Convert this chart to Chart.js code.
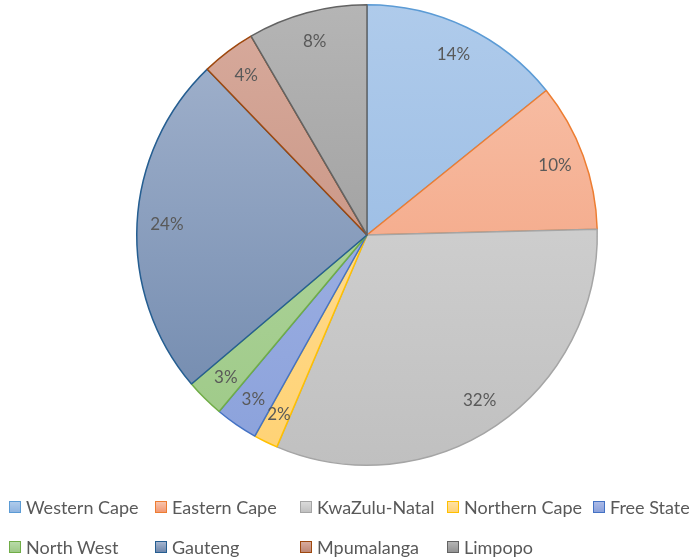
<!DOCTYPE html>
<html>
<head>
<meta charset="utf-8">
<script src="https://cdn.jsdelivr.net/npm/chart.js@4"></script>
<style>
    html, body { margin: 0; padding: 0; background: #ffffff; }
    #wrap { position: relative; width: 692px; height: 558px; }
    #chart { position: absolute; left: 0; top: 0; }
    .legend-item {
        position: absolute;
        display: flex;
        align-items: center;
        font-family: "Lato", "Open Sans", sans-serif;
        font-size: 18px;
        color: #595959;
        white-space: nowrap;
        height: 20px;
    }
    .legend-box {
        width: 10px;
        height: 10px;
        border: 1px solid;
        margin-right: 5px;
    }
</style>
</head>
<body>
<div id="wrap">
    <canvas id="chart" width="692" height="558"></canvas>
</div>
<script>
// Chart data
const provinces = ["Western Cape", "Eastern Cape", "KwaZulu-Natal", "Northern Cape", "Free State",
    "North West", "Gauteng", "Mpumalanga", "Limpopo"];
const shares = [14.2, 10.4, 31.8, 1.7, 3.0, 2.7, 24.0, 3.8, 8.4];

// Colours: gradient top, gradient bottom, outline
const fillTop = ["#afcbeb", "#f8c4ad", "#dadada", "#ffe1a3", "#abbae7", "#b8daa8", "#a5b5cf", "#d8ab9d", "#b5b5b5"];
const fillBottom = ["#8fb4e0", "#f29872", "#c0c0c0", "#ffd274", "#8aa1db", "#9dc986", "#6d86ab", "#bf8774", "#929292"];
const outline = ["#5b9bd5", "#ed7d31", "#a5a5a5", "#ffc000", "#4472c4", "#70ad47", "#255e91", "#9e480e", "#636363"];

// Legend grid positions
const legendCols = [9, 155, 300, 447, 593];
const legendRows = [497, 537];

const wrap = document.getElementById("wrap");
const chartCanvas = document.getElementById("chart");

// Vertical gradient across the pie, lighter at the top
function sliceGradient(context) {
    const chart = context.chart;
    const area = chart.chartArea;
    if (!area) return fillBottom[context.dataIndex];
    const i = context.dataIndex;
    const g = chart.ctx.createLinearGradient(0, area.top, 0, area.bottom);
    g.addColorStop(0, fillTop[i]);
    g.addColorStop(1, fillBottom[i]);
    return g;
}

// Percentage labels inside each slice
const percentLabels = {
    id: "percentLabels",
    afterDatasetsDraw(chart) {
        const ctx = chart.ctx;
        const meta = chart.getDatasetMeta(0);
        const total = shares.reduce((a, b) => a + b, 0);
        ctx.save();
        ctx.font = "17px Lato, 'Open Sans', sans-serif";
        ctx.fillStyle = "#595959";
        ctx.textAlign = "center";
        ctx.textBaseline = "middle";
        meta.data.forEach((arc, i) => {
            const p = arc.getProps(["x", "y", "startAngle", "endAngle", "outerRadius"], true);
            const mid = (p.startAngle + p.endAngle) / 2;
            const r = p.outerRadius * 0.87;
            const text = Math.round((shares[i] / total) * 100) + "%";
            ctx.fillText(text, p.x + Math.cos(mid) * r, p.y + Math.sin(mid) * r);
        });
        ctx.restore();
    },
};

// Build the legend in two rows
function buildLegend() {
    provinces.forEach((name, i) => {
        const row = i < 5 ? 0 : 1;
        const col = i < 5 ? i : i - 5;
        const item = document.createElement("div");
        item.className = "legend-item";
        item.style.left = legendCols[col] + "px";
        item.style.top = legendRows[row] + "px";

        const box = document.createElement("span");
        box.className = "legend-box";
        box.style.background = `linear-gradient(${fillTop[i]}, ${fillBottom[i]})`;
        box.style.borderColor = outline[i];
        item.appendChild(box);

        const label = document.createElement("span");
        label.textContent = name;
        item.appendChild(label);
        wrap.appendChild(item);
    });
}

new Chart(chartCanvas.getContext("2d"), {
    type: "pie",
    data: {
        labels: provinces,
        datasets: [
            {
                data: shares,
                backgroundColor: sliceGradient,
                borderColor: outline,
                borderWidth: 1.5,
            },
        ],
    },
    options: {
        responsive: false,
        animation: false,
        layout: {
            padding: { top: 4, bottom: 92, left: 42, right: 0 },
        },
        plugins: {
            legend: { display: false },
            tooltip: { enabled: false },
        },
    },
    plugins: [percentLabels],
});

buildLegend();
</script>
</body>
</html>
